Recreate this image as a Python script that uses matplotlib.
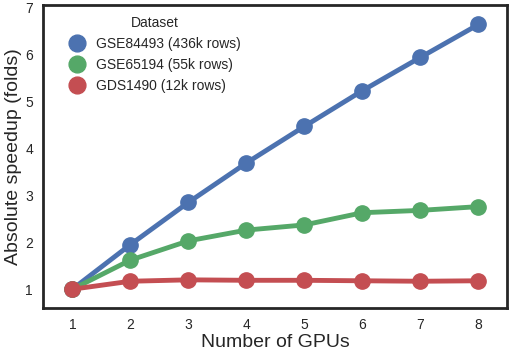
import matplotlib
matplotlib.use("Agg")
import matplotlib.pyplot as plt
import seaborn as sns

# speedup data
gpus = [1, 2, 3, 4, 5, 6, 7, 8]
gse84493 = [1.0, 1.95, 2.85, 3.69, 4.47, 5.23, 5.94, 6.64]
gse65194 = [1.0, 1.62, 2.03, 2.26, 2.37, 2.63, 2.68, 2.76]
gds1490 = [1.0, 1.17, 1.20, 1.19, 1.19, 1.18, 1.17, 1.18]
labels = ["GSE84493 (436k rows)", "GSE65194 (55k rows)", "GDS1490 (12k rows)"]
colors = ["#4C72B0", "#55A868", "#C44E52"]

sns.set_style("white")
plt.rcParams['font.family'] = ['Arial', 'Liberation Sans', 'DejaVu Sans']

fig, ax = plt.subplots(figsize=(5.1, 3.5), dpi=100)

for ys, lab, col in zip([gse84493, gse65194, gds1490], labels, colors):
    ax.plot(gpus, ys, color=col, lw=3.5, marker='o', ms=11, label=lab)

ax.set_xlim(0.5, 8.5)
ax.set_ylim(0.6, 7.05)
ax.set_xticks(gpus)
ax.set_yticks([1, 2, 3, 4, 5, 6, 7])
ax.tick_params(labelsize=10, colors='#262626', pad=4)
ax.set_xlabel("Number of GPUs", fontsize=14, color='#262626', labelpad=1)
ax.set_ylabel("Absolute speedup (folds)", fontsize=14, color='#262626', labelpad=2)
for s in ax.spines.values():
    s.set_color('#262626')
    s.set_linewidth(2)

leg = ax.legend(title="Dataset", loc='upper left', bbox_to_anchor=(0.03, 1.0),
                frameon=False, fontsize=10, title_fontsize=10, handlelength=1.2,
                markerscale=1.1, labelspacing=0.5, borderaxespad=0.4)
for h in leg.legend_handles:
    h.set_linestyle('None')

fig.subplots_adjust(left=0.085, right=0.995, top=0.985, bottom=0.12)
fig.savefig("out.png")
